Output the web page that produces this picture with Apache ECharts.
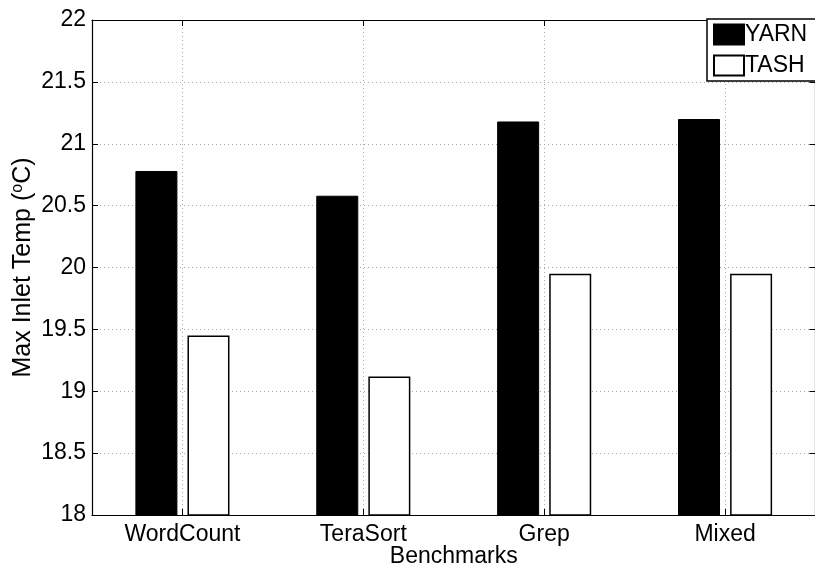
<!DOCTYPE html>
<html>
<head>
<meta charset="utf-8">
<script src="https://cdn.jsdelivr.net/npm/echarts@6/dist/echarts.min.js"></script>
<style>html,body{margin:0;padding:0;background:#fff}#c{width:815px;height:564px}</style>
</head>
<body>
<div id="c"></div>
<script>
const categories = ['WordCount', 'TeraSort', 'Grep', 'Mixed'];
const yarnValues = [20.78, 20.58, 21.18, 21.2];
const tashValues = [19.45, 19.12, 19.95, 19.95];
const yTicks = { min: 18, max: 22, interval: 0.5 };

const FONT = '"Liberation Sans", Arial, Helvetica, sans-serif';
const FS = 23;
const gridLine = { show: true, lineStyle: { color: '#aaa', type: [1, 3], width: 1 } };

const chart = echarts.init(document.getElementById('c'), null, { renderer: 'canvas' });
chart.setOption({
  animation: false,
  backgroundColor: '#fff',
  textStyle: { fontFamily: FONT },
  grid: { left: 92, top: 20, width: 723.5, height: 495, containLabel: false, outerBoundsMode: 'none' },
  legend: {
    left: 707, top: 19, orient: 'vertical',
    itemWidth: 30, itemHeight: 20, itemGap: 8,
    padding: [4, 10, 4, 6],
    borderColor: '#000', borderWidth: 1.5, backgroundColor: '#fff',
    textStyle: { fontSize: FS, color: '#000', padding: [0, 0, 0, -4], fontFamily: FONT },
    icon: 'rect',
    data: ['YARN', 'TASH']
  },
  xAxis: [{
    type: 'category', data: categories, position: 'bottom',
    axisLine: { lineStyle: { color: '#000', width: 1.2 } },
    axisTick: { show: true, alignWithLabel: true, inside: true, length: 6, lineStyle: { color: '#000' } },
    axisLabel: { fontSize: FS, color: '#000', margin: 8, fontFamily: FONT },
    splitLine: Object.assign({ alignWithLabel: true }, gridLine),
    name: 'Benchmarks', nameLocation: 'middle', nameGap: 30, nameMoveOverlap: false,
    nameTextStyle: { fontSize: FS, color: '#000', fontFamily: FONT }
  }, {
    type: 'category', data: categories, position: 'top',
    axisLine: { lineStyle: { color: '#000', width: 1.2 } },
    axisTick: { show: true, alignWithLabel: true, inside: true, length: 6, lineStyle: { color: '#000' } },
    axisLabel: { show: false }, splitLine: { show: false }
  }],
  yAxis: [{
    type: 'value', min: yTicks.min, max: yTicks.max, interval: yTicks.interval, position: 'left',
    axisLine: { show: true, lineStyle: { color: '#000', width: 1.2 } },
    axisTick: { show: true, inside: true, length: 6, lineStyle: { color: '#000' } },
    axisLabel: { fontSize: FS, color: '#000', margin: 6, fontFamily: FONT },
    splitLine: gridLine,
    name: 'Max Inlet Temp ({sup|o}C)', nameLocation: 'middle', nameGap: 56, nameRotate: 90, nameMoveOverlap: false,
    nameTextStyle: {
      fontSize: 25, color: '#000', fontFamily: FONT,
      rich: { sup: { fontSize: 16, verticalAlign: 'top', padding: [0, 0, 10, 0], color: '#000', fontFamily: FONT } }
    }
  }, {
    type: 'value', min: yTicks.min, max: yTicks.max, interval: yTicks.interval, position: 'right',
    axisLine: { show: true, lineStyle: { color: '#000', width: 1.2 } },
    axisTick: { show: true, inside: true, length: 6, lineStyle: { color: '#000' } },
    axisLabel: { show: false }, splitLine: { show: false }
  }],
  series: [{
    name: 'YARN', type: 'bar', data: yarnValues, barWidth: 42, barGap: '24%',
    itemStyle: { color: '#000', borderColor: '#000', borderWidth: 1 }
  }, {
    name: 'TASH', type: 'bar', data: tashValues, barWidth: 42, barGap: '24%',
    itemStyle: { color: '#fff', borderColor: '#000', borderWidth: 1.5 }
  }]
});
</script>
</body>
</html>
